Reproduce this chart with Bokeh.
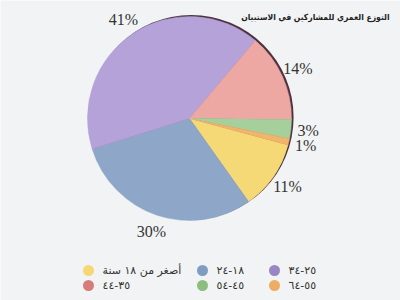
import numpy as np
from bokeh.plotting import figure
from bokeh.models import Range1d
from bokeh.core.properties import value
from bokeh.embed import file_html
from bokeh.resources import INLINE

# ---- data ----
categories = ["أصغر من ١٨ سنة", "١٨-٢٤", "٢٥-٣٤", "٣٥-٤٤", "٤٥-٥٤", "٥٥-٦٤"]
shares = [11, 30, 41, 14, 3, 1]
slice_colors = ["#f6d977", "#8ea6c8", "#b4a2d8", "#eea8a4", "#a5d09b", "#f0b46b"]
legend_colors = ["#f5d776", "#7f9cc2", "#9a85c5", "#d67c7a", "#8dbe80", "#ecae62"]
title_text = "التوزع العمري للمشاركين في الاستبيان"
pct_labels = [f"{v}%" for v in shares]

W, H = 400, 300
p = figure(width=W, height=H, output_backend="svg", toolbar_location=None,
           x_range=Range1d(0, W), y_range=Range1d(0, H),
           x_axis_type=None, y_axis_type=None, min_border=0)
p.outline_line_color = None
p.grid.visible = False
p.background_fill_color = "#f1f3f4"
p.border_fill_color = "#f1f3f4"

cx, cy, r = 189, H - 118, 102
start = np.radians(-15)
frac = np.array(shares, dtype=float) / sum(shares)
cum = np.concatenate([[0.0], np.cumsum(frac)])
a_hi = start - cum[:-1] * 2 * np.pi
a_lo = start - cum[1:] * 2 * np.pi

# dark rim (3D edge)
p.circle(x=cx + 1.8, y=cy + 1.2, radius=r + 0.3, fill_color="#4d3440", line_color=None)

p.wedge(x=cx, y=cy, radius=r, start_angle=list(a_lo), end_angle=list(a_hi),
        direction="anticlock", fill_color=slice_colors, line_color=slice_colors,
        line_width=0.5)

# percentage labels
mid = (a_hi + a_lo) / 2
R = 1.17 * r
lx = cx + R * np.cos(mid)
ly = cy + R * np.sin(mid)
right = [i for i in range(len(shares)) if np.cos(mid[i]) > 0]
right.sort(key=lambda i: -ly[i])
for k in range(1, len(right)):
    a, b = right[k - 1], right[k]
    if ly[a] - ly[b] < 14:
        ly[b] = ly[a] - 14
p.text(x=list(lx), y=list(ly), text=pct_labels, text_align="center", text_baseline="middle",
       text_font=value("Liberation Serif"), text_font_size="16px", text_color="#333333")

# title
p.text(x=[389], y=[H - 16], text=[title_text], text_align="right", text_baseline="middle",
       text_font=value("DejaVu Sans Condensed, DejaVu Sans"), text_font_size="8.5px",
       text_font_style="bold", text_color="#222222")

# legend
col_x = [88, 202, 274]
row_y = [H - 270, H - 285]
leg_x = [col_x[i % 3] for i in range(len(categories))]
leg_y = [row_y[i // 3] for i in range(len(categories))]
p.scatter(x=leg_x, y=leg_y, size=11, marker="circle", fill_color=legend_colors, line_color=None)
p.text(x=[x + 14 for x in leg_x], y=leg_y, text=categories, text_align="left",
       text_baseline="middle", text_font=value("DejaVu Sans"), text_font_size="11px",
       text_color="#333333")

open("out.html", "w").write(file_html(p, INLINE))
